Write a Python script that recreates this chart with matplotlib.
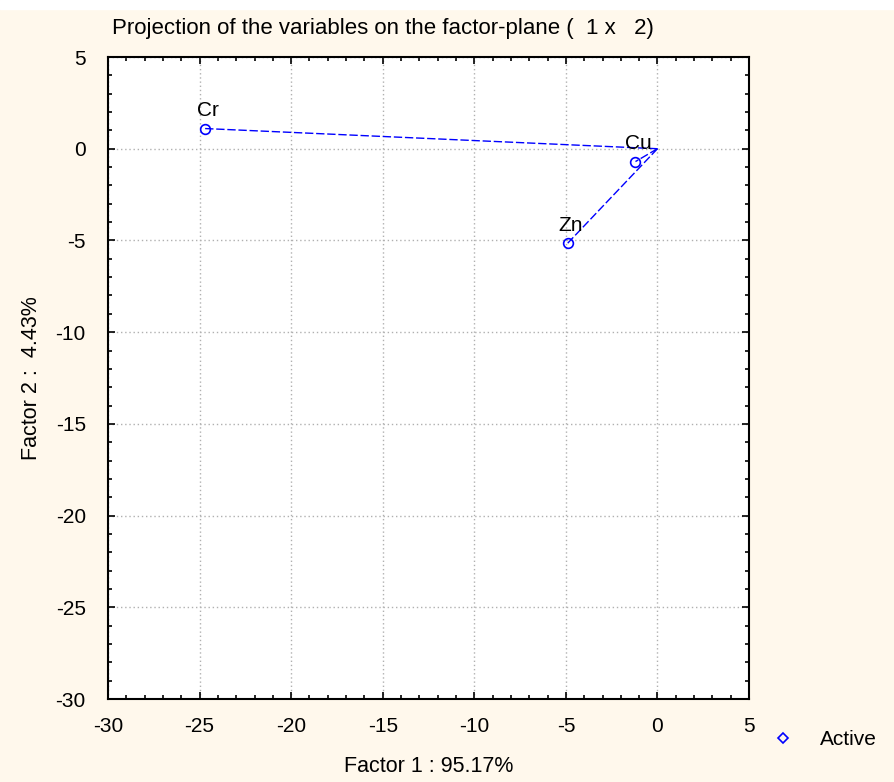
import matplotlib.pyplot as plt
from matplotlib.ticker import MultipleLocator

plt.rcParams['font.family'] = ['Liberation Sans', 'DejaVu Sans']
plt.rcParams['axes.unicode_minus'] = False

# factor coordinates of the active variables
names = ['Cr', 'Cu', 'Zn']
factor1 = [-24.7, -1.2, -4.9]
factor2 = [1.1, -0.7, -5.15]

blue = '#0000ff'
bg = '#fff8ec'

fig = plt.figure(figsize=(8.95, 7.82), dpi=100)
fig.patch.set_facecolor(bg)
# white strip along the top
fig.add_artist(plt.Rectangle((0, 0.988), 1, 0.012, transform=fig.transFigure,
                             color='white', zorder=0))

ax = fig.add_axes([0.1207, 0.1061, 0.7162, 0.8210])
ax.set_facecolor('white')

for x, y, name in zip(factor1, factor2, names):
    ax.plot([0, x], [0, y], color=blue, lw=1, linestyle=(0, (6, 2)))
    ax.plot(x, y, 'o', mfc='none', mec=blue, ms=7, mew=1.2)
    ax.annotate(name, (x, y), xytext=(2, 6), textcoords='offset points',
                ha='center', va='bottom', fontsize=15)

ax.plot([], [], 'D', mfc='none', mec=blue, ms=5, mew=1.2, label='Active')

ax.set_xlim(-30, 5)
ax.set_ylim(-30, 5)
ax.xaxis.set_major_locator(MultipleLocator(5))
ax.yaxis.set_major_locator(MultipleLocator(5))
ax.xaxis.set_minor_locator(MultipleLocator(1))
ax.yaxis.set_minor_locator(MultipleLocator(1))
ax.tick_params(which='both', direction='in', top=True, right=True,
               labelsize=15, width=1.2)
ax.tick_params(which='major', length=5)
ax.tick_params(axis='x', which='major', pad=13)
ax.tick_params(axis='y', which='major', pad=16)
ax.tick_params(which='minor', length=3)
ax.grid(True, which='major', color='#b0b0b0', linestyle=(0, (1, 2)), lw=1)
for s in ax.spines.values():
    s.set_linewidth(1.5)

ax.set_xlabel('Factor 1 : 95.17%', fontsize=15.5, labelpad=14)
ax.set_ylabel('Factor 2 :  4.43%', fontsize=15.5, labelpad=10)
fig.text(0.125, 0.964, 'Projection of the variables on the factor-plane (  1 x   2)',
         fontsize=16, ha='left', va='center')

fig.legend(loc='center left', bbox_to_anchor=(0.837, 0.054), frameon=False,
           fontsize=15, handletextpad=1.0, handlelength=1.5)

fig.savefig('out.png', dpi=100, facecolor=fig.get_facecolor())
